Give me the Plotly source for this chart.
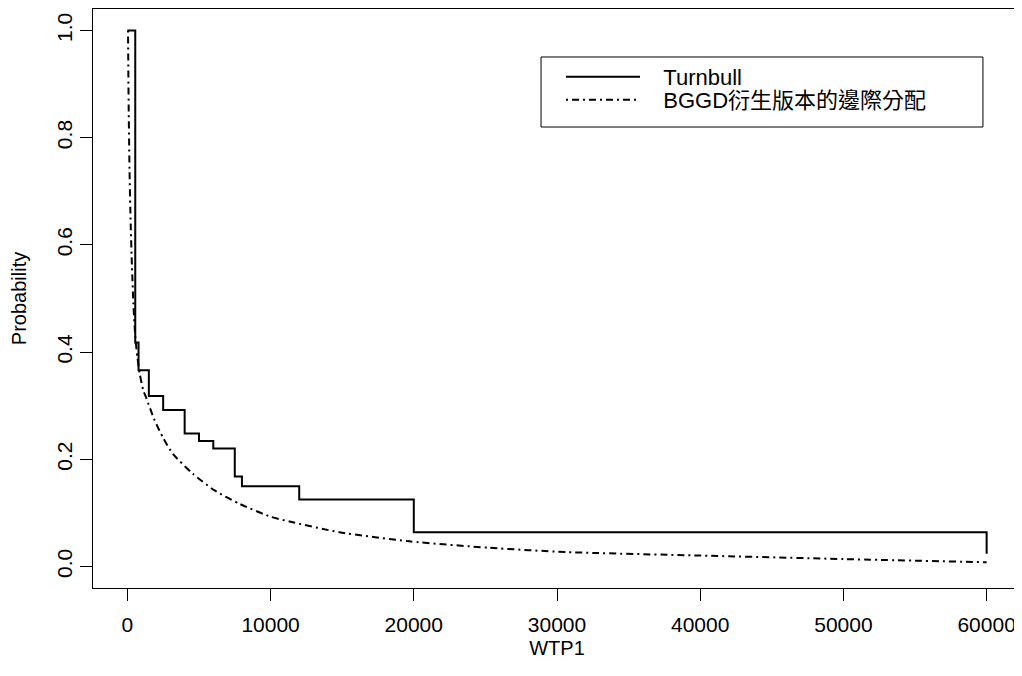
import plotly.graph_objects as go

# Turnbull step estimate (right-continuous steps)
turnbull_x = [0, 550, 780, 1500, 2500, 4000, 5000, 6000, 7500, 8000, 12000, 20000, 60000]
turnbull_p = [1.0, 0.418, 0.366, 0.318, 0.292, 0.248, 0.234, 0.220, 0.168, 0.150, 0.125, 0.064, 0.024]

# BGGD derived marginal distribution
bggd_x = [45, 90, 150, 230, 320, 420, 550, 700, 860, 1100, 1325, 1900, 2500, 3180,
          4580, 6090, 7834, 10000, 11323, 14810, 19700, 25280, 30630, 40000, 50000, 60000]
bggd_p = [1.0, 0.86, 0.74, 0.64, 0.56, 0.49, 0.43, 0.39, 0.36, 0.33, 0.314, 0.273, 0.24, 0.21,
          0.173, 0.142, 0.117, 0.093, 0.084, 0.064, 0.047, 0.035, 0.027, 0.0205, 0.014, 0.008]

series_names = ["Turnbull", "BGGD衍生版本的邊際分配"]

x_ticks = [0, 10000, 20000, 30000, 40000, 50000, 60000]
y_ticks = [0.0, 0.2, 0.4, 0.6, 0.8, 1.0]
y_tick_text = ["0.0", "0.2", "0.4", "0.6", "0.8", "1.0"]

FONT = "Liberation Sans, Arial, Helvetica, Noto Sans CJK TC, sans-serif"
PAD = "\u00a0\u00a0\u00a0"

fig = go.Figure()
fig.add_trace(go.Scatter(
    x=turnbull_x, y=turnbull_p, mode="lines", name=PAD + series_names[0],
    line=dict(color="black", width=2, shape="hv"), legend="legend",
))
fig.add_trace(go.Scatter(
    x=bggd_x, y=bggd_p, mode="lines", name=PAD + series_names[1],
    line=dict(color="black", width=2, dash="2px,4px,7px,4px", shape="spline", smoothing=0.6),
    legend="legend2",
))

leg_common = dict(xanchor="left", yanchor="middle", borderwidth=0,
                  bgcolor="rgba(0,0,0,0)", font=dict(size=22), itemwidth=74)

fig.update_layout(
    width=1014, height=668,
    margin=dict(l=85, r=1, t=1, b=88),
    paper_bgcolor="white", plot_bgcolor="white",
    font=dict(family=FONT, size=20, color="black"),
    showlegend=True,
    legend=dict(x=0.5043, y=0.8826, **leg_common),
    legend2=dict(x=0.5043, y=0.8428, **leg_common),
    shapes=[dict(type="rect", xref="paper", yref="paper",
                 x0=0.4828, x1=0.959, y0=0.7962, y1=0.9171,
                 line=dict(color="black", width=1), fillcolor="rgba(0,0,0,0)", layer="above")],
    xaxis=dict(
        range=[-2400, 62400], tickvals=x_ticks, ticktext=[str(v) for v in x_ticks],
        showgrid=False, zeroline=False, showline=True, mirror=True,
        linecolor="black", linewidth=1, ticks="outside", ticklen=12, tickcolor="black",
        ticklabelstandoff=6,
        title=dict(text="WTP1", standoff=5, font=dict(size=20)),
        tickfont=dict(size=21),
    ),
    yaxis=dict(
        range=[-0.04, 1.04], tickvals=y_ticks, ticktext=y_tick_text,
        showgrid=False, zeroline=False, showline=True, mirror=True,
        linecolor="black", linewidth=1, ticks="outside", ticklen=12, tickcolor="black",
        tickangle=-90,
        title=dict(text="Probability", standoff=23, font=dict(size=20)),
        tickfont=dict(size=21),
    ),
)

fig.write_html("out.html")
